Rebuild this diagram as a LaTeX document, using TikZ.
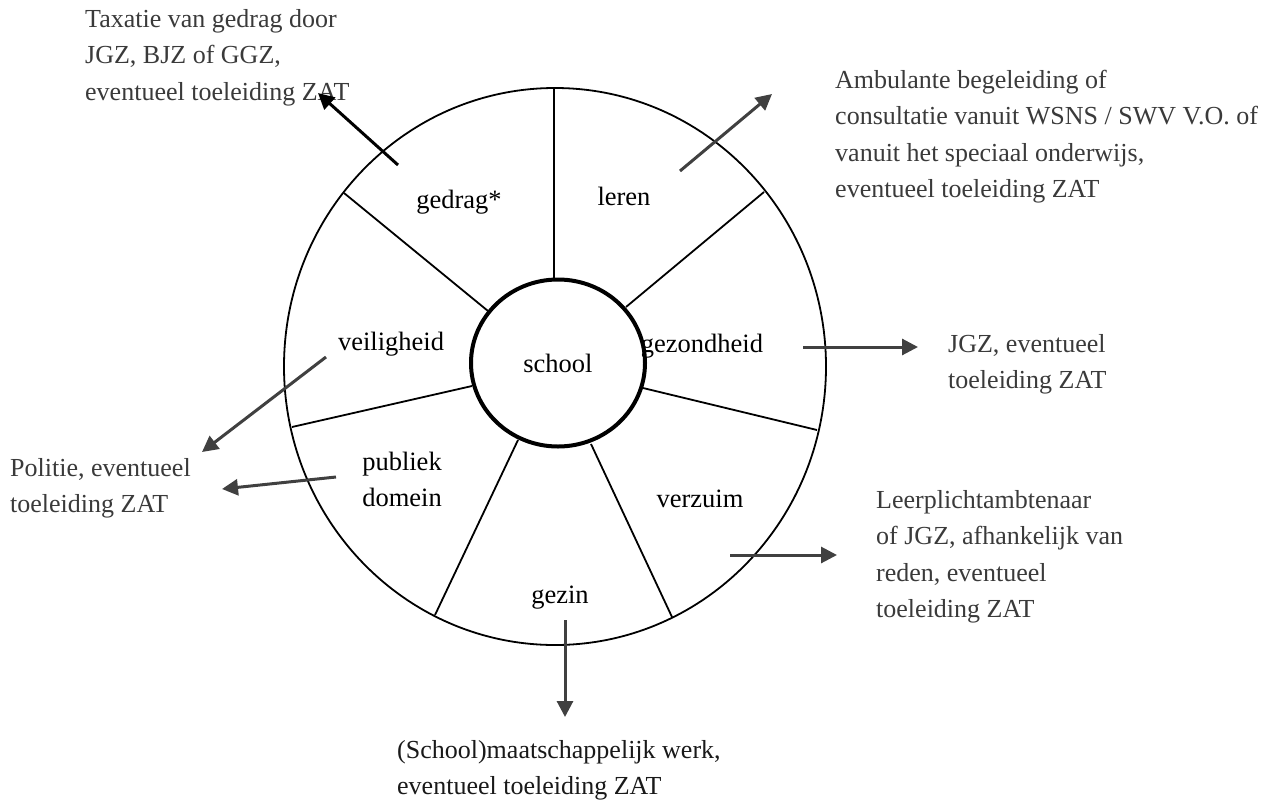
\documentclass[tikz,border=0pt]{standalone}
\usepackage{fontspec}
\setmainfont{Liberation Serif}
\usetikzlibrary{arrows.meta,shapes.geometric}
\definecolor{txtgray}{HTML}{3A3A3A}
\definecolor{arrowgray}{HTML}{404040}
\begin{document}
\begin{tikzpicture}[x=1pt,y=-1pt,
  wheel/.style={line width=1.8pt, draw=black},
  hubline/.style={line width=4pt, draw=black},
  seg/.style={font=\fontsize{26.5}{36.5}\selectfont, inner sep=0pt, anchor=base, text=black},
  ext/.style={font=\fontsize{26}{36.5}\selectfont, inner sep=0pt, anchor=base west, text=txtgray},
  link/.style={line width=3pt, draw=arrowgray, -{Triangle[length=16pt,width=16pt]}},
]
\useasboundingbox (0,0) rectangle (1272,801);

% wheel
\draw[wheel] (555,366.5) ellipse [x radius=271pt, y radius=278.5pt];
\draw[wheel] (554,88) -- (554,279);
\draw[wheel] (344,193) -- (488,311);
\draw[wheel] (764,192) -- (626,307);
\draw[wheel] (292,427) -- (472,386);
\draw[wheel] (643,388) -- (817,430);
\draw[wheel] (518,440) -- (435,615);
\draw[wheel] (591,444) -- (672,617);
\node[ellipse, hubline, fill=white, minimum width=174pt, minimum height=167pt, inner sep=0pt,
      font=\fontsize{26.5}{36.5}\selectfont] (hub) at (558,363) {school};

% segment labels
\node[seg] (gedrag) at (459,208) {gedrag*};
\node[seg] (leren) at (624,205) {leren};
\node[seg] (veilig) at (391,350) {veiligheid};
\node[seg] (gezond) at (702,352) {gezondheid};
\node[seg] (publiek) at (402,470) {\begin{tabular}[t]{@{}c@{}}publiek\\domein\end{tabular}};
\node[seg] (verzuim) at (700,507) {verzuim};
\node[seg] (gezin) at (560,603) {gezin};

% outside labels
\node[ext] (tTax) at (85,27) {\begin{tabular}[t]{@{}l@{}}Taxatie van gedrag door\\JGZ, BJZ of GGZ,\\eventueel toeleiding ZAT\end{tabular}};
\node[ext] (tAmb) at (835,88) {\begin{tabular}[t]{@{}l@{}}Ambulante begeleiding of\\consultatie vanuit WSNS / SWV V.O. of\\vanuit het speciaal onderwijs,\\eventueel toeleiding ZAT\end{tabular}};
\node[ext] (tJgz) at (948,352) {\begin{tabular}[t]{@{}l@{}}JGZ, eventueel\\toeleiding ZAT\end{tabular}};
\node[ext] (tPol) at (10,476) {\begin{tabular}[t]{@{}l@{}}Politie, eventueel\\toeleiding ZAT\end{tabular}};
\node[ext] (tLeer) at (876,508) {\begin{tabular}[t]{@{}l@{}}Leerplichtambtenaar\\of JGZ, afhankelijk van\\reden, eventueel\\toeleiding ZAT\end{tabular}};
\node[ext, text=black!90] (tSch) at (397,758) {\begin{tabular}[t]{@{}l@{}}(School)maatschappelijk werk,\\eventueel toeleiding ZAT\end{tabular}};

% arrows
\coordinate (aG0) at (398,165); \coordinate (aG1) at (318,93);
\coordinate (aL0) at (680,171); \coordinate (aL1) at (772,94);
\coordinate (aZ0) at (803,347); \coordinate (aZ1) at (918,347);
\coordinate (aV0) at (326,357); \coordinate (aV1) at (202,452);
\coordinate (aP0) at (336,477); \coordinate (aP1) at (222,489);
\coordinate (aR0) at (730,555); \coordinate (aR1) at (837,555);
\coordinate (aF0) at (565,620); \coordinate (aF1) at (565,717);
\draw[link, draw=black] (aG0) -- (aG1);
\draw[link] (aL0) -- (aL1);
\draw[link] (aZ0) -- (aZ1);
\draw[link] (aV0) -- (aV1);
\draw[link] (aP0) -- (aP1);
\draw[link] (aR0) -- (aR1);
\draw[link] (aF0) -- (aF1);
\end{tikzpicture}
\end{document}
